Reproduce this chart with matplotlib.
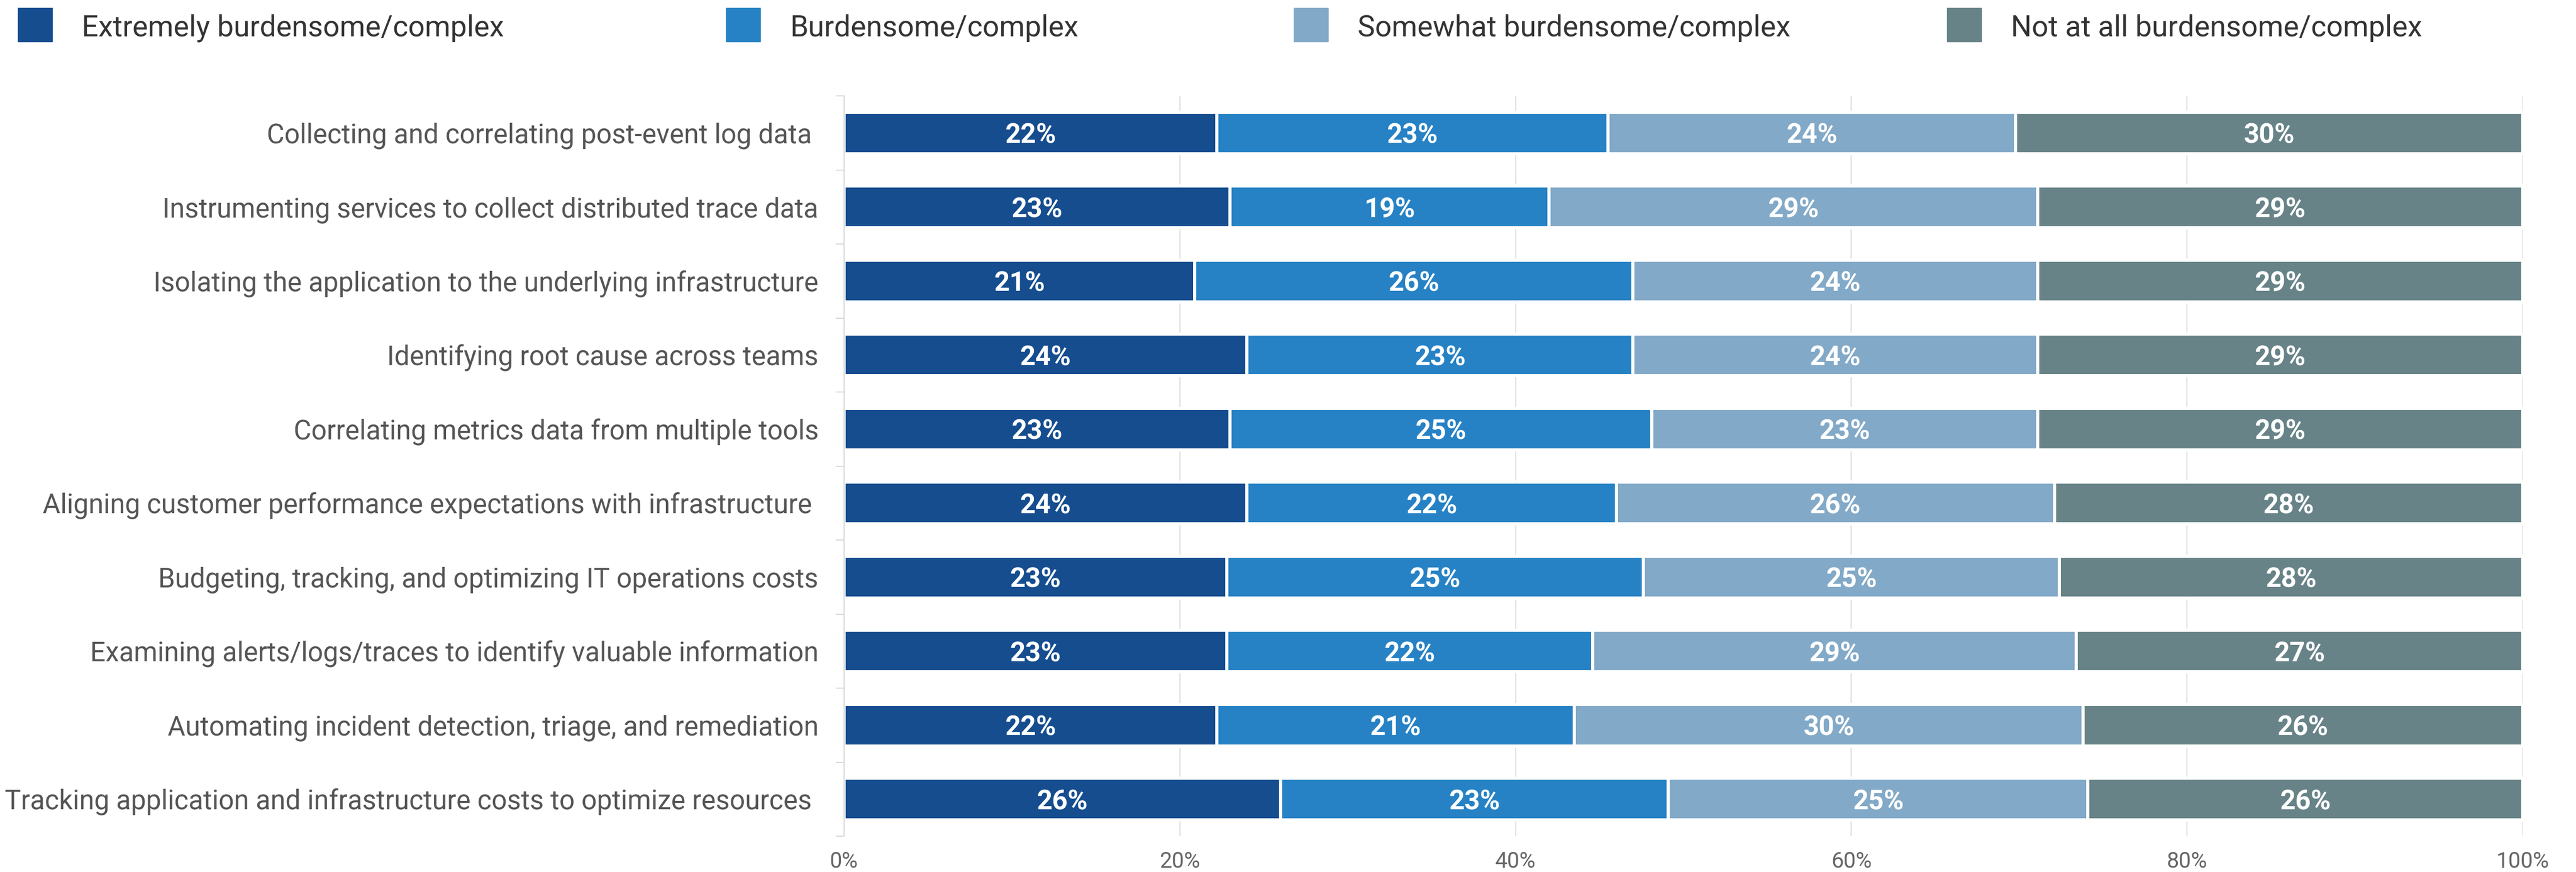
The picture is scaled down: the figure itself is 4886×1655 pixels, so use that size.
import numpy as np
import matplotlib.pyplot as plt
from matplotlib.patches import Rectangle

plt.rcParams['font.family'] = ['Roboto', 'DejaVu Sans']

# survey items, top to bottom
tasks = [
    "Collecting and correlating post-event log data ",
    "Instrumenting services to collect distributed trace data",
    "Isolating the application to the underlying infrastructure",
    "Identifying root cause across teams",
    "Correlating metrics data from multiple tools",
    "Aligning customer performance expectations with infrastructure ",
    "Budgeting, tracking, and optimizing IT operations costs",
    "Examining alerts/logs/traces to identify valuable information",
    "Automating incident detection, triage, and remediation",
    "Tracking application and infrastructure costs to optimize resources ",
]

# share of respondents (%) per answer
extremely = [22.2, 23.0, 20.9, 24.0, 23.0, 24.0, 22.8, 22.8, 22.2, 26.0]
burdensome = [23.3, 19.0, 26.1, 23.0, 25.1, 22.0, 24.8, 21.8, 21.3, 23.1]
somewhat = [24.3, 29.1, 24.1, 24.1, 23.0, 26.1, 24.8, 28.8, 30.3, 25.0]
not_at_all = [30.2, 28.9, 28.9, 28.9, 28.9, 27.9, 27.6, 26.6, 26.2, 25.9]

series_names = ["Extremely burdensome/complex", "Burdensome/complex",
                "Somewhat burdensome/complex", "Not at all burdensome/complex"]
colors = ["#154d8f", "#2682c5", "#82a9c7", "#678388"]

x_ticks = [0, 20, 40, 60, 80, 100]

W, H = 4886, 1655
fig = plt.figure(figsize=(W / 100, H / 100), dpi=100)

def fx(px):
    return px / W

def fy(py):
    return 1 - py / H

ax = fig.add_axes([fx(1601), fy(1587), fx(4785 - 1601), (1587 - 182) / H])

y = np.arange(len(tasks))
left = np.zeros(len(tasks))
for vals, name, c in zip([extremely, burdensome, somewhat, not_at_all], series_names, colors):
    vals = np.array(vals)
    bars = ax.barh(y, vals, left=left, height=0.56, color=c,
                   edgecolor='white', linewidth=4.3, label=name)
    for b, v in zip(bars, vals):
        ax.text(b.get_x() + b.get_width() / 2, b.get_y() + b.get_height() / 2,
                f"{v:.0f}%", ha='center', va='center_baseline', color='white',
                fontsize=37, fontweight='bold')
    left += vals

ax.set_xlim(0, 100)
ax.set_ylim(len(tasks) - 0.5, -0.5)
ax.set_xticks(x_ticks)
ax.set_xticklabels([f"{t}%" for t in x_ticks])
ax.set_yticks(y)
ax.set_yticklabels(tasks)
ax.set_yticks(np.arange(-0.5, len(tasks)), minor=True)

ax.tick_params(axis='x', length=0, pad=20, labelsize=30, labelcolor='#666666')
ax.tick_params(axis='y', which='major', length=0, pad=35, labelsize=37, labelcolor='#555555')
ax.tick_params(axis='y', which='minor', length=11.5, width=1.5, color='#d9d9d9')

ax.grid(axis='x', color='#dcdcdc', linewidth=1.5)
ax.set_axisbelow(True)
for s in ['top', 'right', 'bottom']:
    ax.spines[s].set_visible(False)
ax.spines['left'].set_color('#d9d9d9')
ax.spines['left'].set_linewidth(1.5)

# legend row across the top
legend_x = [34, 1377, 2454, 3693]
for name, c, px in zip(series_names, colors, legend_x):
    fig.add_artist(Rectangle((fx(px), fy(79)), fx(65), 64 / H,
                             transform=fig.transFigure, color=c))
    fig.text(fx(px + 121), fy(48), name, fontsize=40, color='#333333',
             va='center_baseline', ha='left')

fig.savefig('out.png', dpi=100, facecolor='white')
